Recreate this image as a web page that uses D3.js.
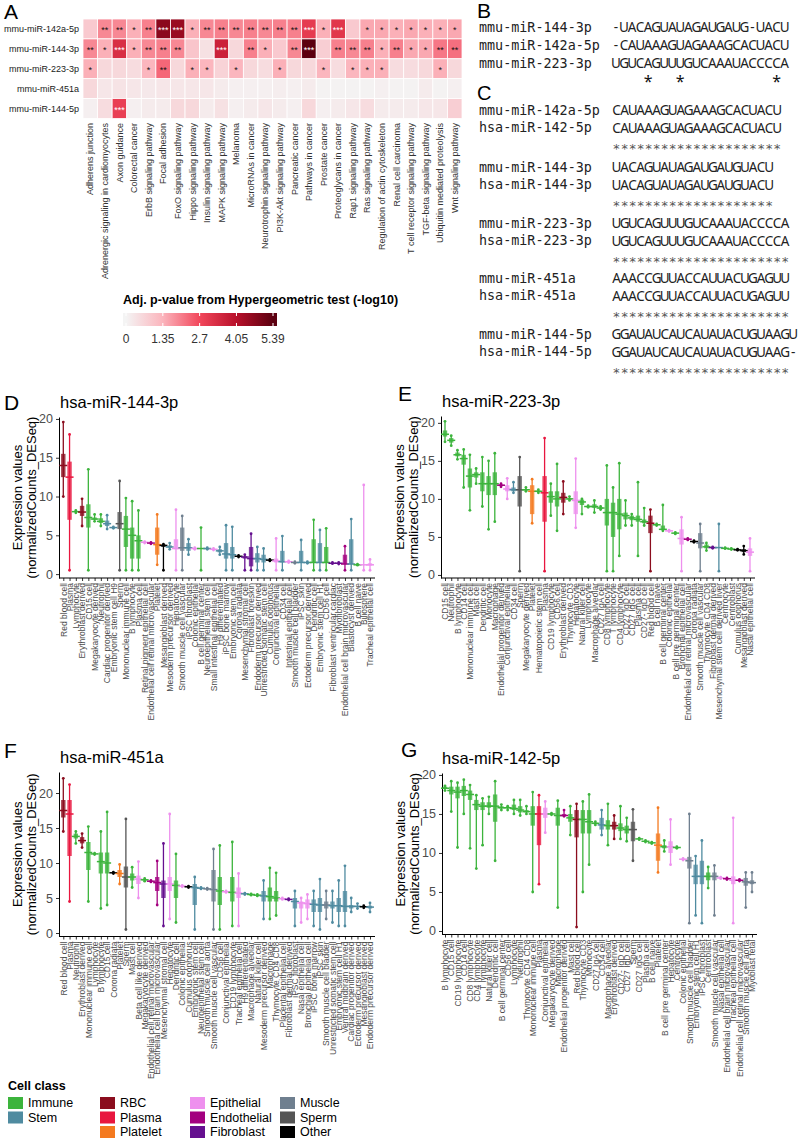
<!DOCTYPE html>
<html><head><meta charset="utf-8">
<script src="https://cdn.jsdelivr.net/npm/d3@7"></script>
<style>body{margin:0;background:#fff}svg{display:block}</style>
</head><body>
<svg id="c" width="800" height="1142"></svg>
<script>
// ---------------- DATA ----------------
const hmRows = ["mmu-miR-142a-5p","mmu-miR-144-3p","mmu-miR-223-3p","mmu-miR-451a","mmu-miR-144-5p"];
const hmCols = ["Adherens junction","Adrenergic signaling in cardiomyocytes","Axon guidance","Colorectal cancer","ErbB signaling pathway","Focal adhesion","FoxO signaling pathway","Hippo signaling pathway","Insulin signaling pathway","MAPK signaling pathway","Melanoma","MicroRNAs in cancer","Neurotrophin signaling pathway","PI3K-Akt signaling pathway","Pancreatic cancer","Pathways in cancer","Prostate cancer","Proteoglycans in cancer","Rap1 signaling pathway","Ras signaling pathway","Regulation of actin cytoskeleton","Renal cell carcinoma","T cell receptor signaling pathway","TGF-beta signaling pathway","Ubiquitin mediated proteolysis","Wnt signaling pathway"];
const hmVals = [
 [0.9,1.9,1.9,1.4,2.0,4.7,4.5,1.4,1.9,2.0,1.9,2.0,1.9,2.0,2.0,3.0,1.4,3.1,0.9,1.5,1.5,1.4,1.5,1.4,1.4,1.5],
 [1.9,1.4,3.3,1.4,1.9,2.0,1.9,1.0,0.4,3.6,0.6,2.0,1.4,0.9,1.9,5.39,0.8,2.0,1.9,2.0,1.4,2.0,1.5,1.5,2.1,2.2],
 [1.4,0.6,0.6,0.5,1.3,2.3,0.6,1.4,1.3,0.7,1.3,0.6,0.5,1.4,0.6,0.6,1.3,0.5,1.3,1.4,1.4,0.5,0.5,0.6,1.4,0.6],
 [0.6,0.3,0.35,0.3,0.25,0.3,0.3,0.3,0.3,0.2,0.1,0.1,0.1,0.15,0.1,0.2,0.05,0.05,0.05,0.05,0.1,0.05,0.05,0.2,0.05,0.1],
 [0.1,0.5,2.9,0.1,0.2,0.2,0.6,0.6,0.2,0.4,0.1,0.2,0.3,0.2,0.1,0.6,0.1,0.2,0.3,0.5,0.2,0.2,0.2,0.3,0.3,0.8]
];
const hmStars = [
 ["","**","**","*","**","***","***","*","**","**","**","**","**","**","**","***","*","***","","*","*","*","*","*","*","*"],
 ["**","*","***","*","**","**","**","","","***","","**","*","","**","***","","**","**","**","*","**","*","*","**","**"],
 ["*","","","","*","**","","*","*","","*","","","*","","","*","","*","*","*","","","","*",""],
 ["","","","","","","","","","","","","","","","","","","","","","","","","",""],
 ["","","***","","","","","","","","","","","","","","","","","","","","","","",""]
];
const hmStops = [0,1.35,2.7,4.05,5.39];
const hmStopColors = ["#f4f4f4","#fbb4bc","#f2475b","#b8102a","#5c0010"];
const hmTicks = ["0","1.35","2.7","4.05","5.39"];

const bNames = ["mmu-miR-144-3p","mmu-miR-142a-5p","mmu-miR-223-3p"];
const bSeqs  = ["-UACAGUAUAGAUGAUG-UACU","-CAUAAAGUAGAAAGCACUACU","UGUCAGUUUGUCAAAUACCCCA"];
const bCons  = "    *   *           * ";

const cMmu    = ["mmu-miR-142a-5p","mmu-miR-144-3p","mmu-miR-223-3p","mmu-miR-451a","mmu-miR-144-5p"];
const cHsa    = ["hsa-miR-142-5p","hsa-miR-144-3p","hsa-miR-223-3p","hsa-miR-451a","hsa-miR-144-5p"];
const cMmuSeq = ["CAUAAAGUAGAAAGCACUACU","UACAGUAUAGAUGAUGUACU","UGUCAGUUUGUCAAAUACCCCA","AAACCGUUACCAUUACUGAGUU","GGAUAUCAUCAUAUACUGUAAGU"];
const cHsaSeq = ["CAUAAAGUAGAAAGCACUACU","UACAGUAUAGAUGAUGUACU","UGUCAGUUUGUCAAAUACCCCA","AAACCGUUACCAUUACUGAGUU","GGAUAUCAUCAUAUACUGUAAG-"];
const cCons   = ["*********************","********************","**********************","**********************","********************** "];

const classNames  = ["Immune","Stem","RBC","Plasma","Platelet","Epithelial","Endothelial","Fibroblast","Muscle","Sperm","Other"];
const classColors = ["#3cb43c","#4f8ba0","#8b0d1e","#e8163f","#f47a20","#ee90ee","#a3007f","#65108f","#6f7f8f","#555555","#000000"];
const legendGroups = [["Immune","Stem"],["RBC","Plasma","Platelet"],["Epithelial","Endothelial","Fibroblast"],["Muscle","Sperm","Other"]];
const yTicks = [0,5,10,15,20];

// [cell type, class, min, q1, median, q3, max]
const panelD = [
 ["Red blood cell","RBC",10,12.5,14,15.5,19.6],
 ["Plasma","Plasma",0.5,7,12.5,14.5,18],
 ["Lymphocyte","Immune",7.9,8,8.05,8.1,8.2],
 ["Erythroblast derived","RBC",6.2,7.5,8,8.8,9.7],
 ["CD15 cell","Immune",0.5,6,7.3,9,13.5],
 ["Megakaryocyte derived","Immune",6.8,7,7.1,7.3,7.7],
 ["Neutrophil","Immune",6.2,6.6,6.8,7.2,7.7],
 ["Cardiac progenitor derived","Stem",5.8,6.2,6.5,6.9,7.6],
 ["Embryonic stem cell H9","Stem",5.9,5.95,6,6.05,6.1],
 ["Sperm","Sperm",0.5,5.8,6.5,8,12],
 ["Mononuclear immune cell","Immune",0.5,3.5,5.8,7.5,9.8],
 ["B lymphocyte","Immune",0.5,2,5,6,9.4],
 ["Plasma cell","Immune",0.5,2,4.3,5,8.2],
 ["Retinal pigment epithelial cell","Epithelial",4,4.05,4.1,4.15,4.2],
 ["Endothelial cell retinal microvascular","Endothelial",3.9,3.95,4,4.05,4.1],
 ["Platelet","Platelet",1.2,2.5,3.8,6,7.7],
 ["Mesangioblast derived","Other",0.5,3.5,3.7,3.8,3.85],
 ["Mesoderm precursor derived","Stem",3.2,3.4,3.5,3.7,4],
 ["Hepatocyte","Epithelial",0.5,3.2,3.3,4.5,8.3],
 ["Smooth muscle cell vascular","Muscle",0.5,3,3.4,6,7.5],
 ["iPSC fibroblast","Stem",2.5,3,3.4,4,4.5],
 ["Colonic epithelial","Epithelial",3.2,3.25,3.3,3.35,3.4],
 ["B cell germinal center","Immune",0.5,3.3,3.3,3.3,6],
 ["Neuroepithelial stem cell","Stem",3.2,3.25,3.3,3.35,3.4],
 ["Small intestinal epithelial cell","Epithelial",3.1,3.15,3.2,3.25,3.3],
 ["H9 differentiated","Stem",2.5,2.8,3,3.2,3.5],
 ["iPSC bone marrow","Stem",0.5,2,2.6,4,6.3],
 ["Embryonic stem cell","Stem",0.5,2,2.5,3.5,6.1],
 ["Corona radiata","Other",2.2,2.25,2.3,2.35,2.4],
 ["Mesenchymal stromal cell","Fibroblast",0.5,2,2.2,2.3,2.5],
 ["Fibroblast foreskin","Fibroblast",0.5,1,2,3.5,5.2],
 ["Endoderm precursor derived","Stem",0.5,1.5,2,2.7,3.5],
 ["Unrestricted somatic stem cell","Stem",0.5,1.5,1.9,2.5,3.3],
 ["Cumulus oophorus","Other",1.7,1.75,1.8,1.85,1.9],
 ["Conjunctival epithelial","Epithelial",0.5,1.5,1.7,2,4.6],
 ["CD34 cell","Stem",0.5,1.5,1.6,3,4.9],
 ["Intestinal epithelial cell","Epithelial",1.5,1.55,1.6,1.65,1.7],
 ["Smooth muscle cell bladder","Muscle",1.4,1.45,1.5,1.55,1.6],
 ["iPSC skin","Stem",0.5,1.5,1.5,3,4.4],
 ["Ectoderm precursor derived","Stem",1.4,1.45,1.5,1.55,1.6],
 ["Dendritic cell","Immune",0.5,1.5,1.5,4.5,7],
 ["Embryonic stem cell H1","Stem",0.5,1.5,1.5,4,5.7],
 ["CD56 cell","Immune",0.5,1.5,1.5,3.5,5.9],
 ["Fibroblast ventricular cardiac","Fibroblast",1.35,1.4,1.4,1.45,1.5],
 ["Myofibroblast","Fibroblast",1.3,1.35,1.4,1.45,1.5],
 ["Endothelial cell brain microvascular","Endothelial",0.5,1.3,1.3,2.5,3.6],
 ["Blastocyst derived","Stem",0.5,1.3,1.3,4.5,7.1],
 ["B cell naive","Immune",1.15,1.2,1.2,1.25,1.3],
 ["Biliosphere","Epithelial",0.5,1.2,1.2,1.3,11.5],
 ["Tracheal epithelial cell","Epithelial",0.5,1.1,1.2,1.4,1.9]
];

const panelE = [
 ["CD15 cell","Immune",17.5,18.2,18.5,19,20.2],
 ["Neutrophil","Immune",17,17.4,17.7,18,18.3],
 ["B lymphocyte","Immune",15.2,15.6,15.8,16.1,16.4],
 ["CD14 cell","Immune",11.5,14.5,15.3,15.8,16.5],
 ["Mononuclear immune cell","Immune",8.5,11.5,13,14,15.8],
 ["Mast cell","Immune",12,12.8,13.2,13.5,14],
 ["Dendritic cell","Immune",9,11,12,13.5,15.5],
 ["Monocyte","Immune",6,10.5,12,13,15],
 ["Macrophage","Immune",7,10.5,12,13.5,16],
 ["Endothelial progenitor derived","Endothelial",11.6,11.7,11.8,11.9,12],
 ["Conjunctival epithelial","Epithelial",10,11,11.3,11.8,12.7],
 ["CD34 cell","Stem",10.8,11,11.2,11.5,12.2],
 ["Sperm","Sperm",0.5,9,11.2,13,15.5],
 ["Megakaryocyte derived","Immune",11,11.1,11.2,11.3,11.5],
 ["Platelet","Platelet",6.8,8,11,11.8,12.6],
 ["Hematopoietic stem cell","Immune",10.8,10.9,11,11.1,11.2],
 ["Plasma","Plasma",0.5,7,10.8,13,18],
 ["CD19 lymphocyte","Immune",7.8,9.5,10.3,11,12],
 ["CD56 cell","Immune",5.8,9,10,11,14.6],
 ["Erythroblast derived","RBC",8,9.5,10.2,10.8,12.3],
 ["Thymocyte CD3","Immune",9.8,9.9,10,10.1,10.3],
 ["Hepatocyte","Epithelial",6.2,8,9.8,11,15.3],
 ["Natural killer cell","Immune",8,9.2,9.6,9.9,10],
 ["Lymphocyte","Immune",8.9,8.95,9,9.05,9.1],
 ["Macrophage alveolar","Immune",8.2,8.8,9,9.3,9.8],
 ["CD27 IgA cell","Immune",8.6,8.7,8.8,8.9,9],
 ["CD8 lymphocyte","Immune",0.5,6.5,8.2,10,14.4],
 ["T lymphocyte","Immune",0.5,5,8.2,9.5,11.5],
 ["CD4 lymphocyte","Immune",2.5,6,8,10,14.7],
 ["CD27 IgD cell","Immune",6.5,7.3,7.8,8.2,9.8],
 ["CD27 IgG cell","Immune",6.5,7.2,7.5,7.8,8],
 ["Plasma cell","Immune",2.5,7,7.3,7.8,12.2],
 ["CD27- IgD cell","Immune",6.5,6.8,7,7.3,8.8],
 ["Red blood cell","RBC",0.5,5.5,6.8,7.8,8.6],
 ["B cell naive","Immune",6.5,6.55,6.6,6.65,6.7],
 ["B cell germinal center","Immune",5.8,5.9,6,6.5,9.2],
 ["Colonic epithelial","Epithelial",5.7,5.75,5.8,5.85,5.9],
 ["B cell pre germinal center","Immune",5.4,5.45,5.5,5.55,5.6],
 ["Bronchial epithelial cell","Epithelial",0.5,4,4.8,6,7.6],
 ["Endothelial cell retinal microvascular","Endothelial",4.6,4.65,4.7,4.75,4.8],
 ["Corona radiata","Other",4.3,4.35,4.4,4.45,4.5],
 ["Smooth muscle cell vascular","Muscle",0.5,3.5,4.2,5.5,6.7],
 ["Thymocyte CD4 CD8","Immune",3.2,3.5,3.7,4,4.2],
 ["Fibroblast dermal derived","Fibroblast",3.5,3.55,3.6,3.65,3.7],
 ["Mesenchymal stem cell derived liver","Stem",0.5,3.6,3.6,3.6,6.7],
 ["Centrocyte","Immune",3.45,3.5,3.5,3.55,3.6],
 ["Centroblast","Immune",3.35,3.4,3.4,3.45,3.5],
 ["Cumulus oophorus","Other",3.25,3.3,3.3,3.35,3.4],
 ["Mesangioblast derived","Other",2.7,3,3.2,3.4,3.8],
 ["Nasal epithelial cell","Epithelial",0.5,2.5,3,3.5,4.8]
];

const panelF = [
 ["Red blood cell","RBC",14.5,16.5,17.5,19,22.1],
 ["Plasma","Plasma",4.5,11,17,19,21.2],
 ["Neutrophil","Immune",12.8,13.5,13.8,14.2,14.5],
 ["Erythroblast derived","RBC",12.2,12.8,13.2,13.7,14.2],
 ["Mononuclear immune cell","Immune",4.5,9,11.5,13,15.2],
 ["Lymphocyte","Immune",11.2,11.25,11.3,11.35,11.4],
 ["B lymphocyte","Immune",3.5,8.5,10.2,11.5,14.5],
 ["CD15 cell","Immune",4,8.5,10,11.5,17.3],
 ["Corona radiata","Other",8.5,8.55,8.6,8.65,8.7],
 ["Platelet","Platelet",7,8,8.5,9,9.8],
 ["Sperm","Sperm",0.5,6.5,8,9.5,16.3],
 ["Mast cell","Immune",6.5,7.5,8,8.5,9.4],
 ["Beta cell like derived","Epithelial",5,7,7.7,8.2,10.2],
 ["Megakaryocyte derived","Immune",7.4,7.5,7.6,7.7,7.8],
 ["Endothelial cell retinal microvascular","Endothelial",7.3,7.35,7.4,7.45,7.5],
 ["Endothelial cell brain microvascular","Endothelial",4,6,7.2,8,10.3],
 ["Mesenchymal stromal cell","Fibroblast",1,5,7,7.5,12.8],
 ["Hepatocyte","Epithelial",2,6,7,8,17],
 ["Dendritic cell","Immune",1.5,5,6.8,7.5,11.3],
 ["Colonic epithelial","Epithelial",6.6,6.65,6.7,6.75,6.8],
 ["Cumulus oophorus","Other",6.5,6.55,6.6,6.65,6.7],
 ["Embryonic stem cell","Stem",0.5,4,6.5,7,8],
 ["Neuroepithelial stem cell","Stem",6.3,6.35,6.4,6.45,6.5],
 ["Smooth muscle cell aorta","Muscle",6.2,6.25,6.3,6.35,6.4],
 ["Smooth muscle cell vascular","Muscle",0.5,4.5,6.2,9,12],
 ["CD56 cell","Immune",0.5,4,6,8,12.5],
 ["Conjunctival epithelial","Epithelial",5.8,5.85,5.9,5.95,6],
 ["CD19 lymphocyte","Immune",1,4.5,5.8,8,13],
 ["Tracheal epithelial cell","Epithelial",1,5,5.7,6.5,8.5],
 ["H9 differentiated","Stem",5.5,5.55,5.6,5.65,5.7],
 ["Macrophage alveolar","Immune",5.4,5.45,5.5,5.55,5.6],
 ["Natural killer cell","Immune",5.3,5.35,5.4,5.45,5.5],
 ["Mesoderm precursor derived","Stem",2,4.5,5.3,6,7.5],
 ["Macrophage","Immune",2,4.5,5.2,6.5,9.3],
 ["Thymocyte CD4 CD8","Immune",2.5,4.5,5,6,8.6],
 ["Placental epithelial cell","Epithelial",4.8,4.85,4.9,4.95,5],
 ["Fibroblast dermal derived","Fibroblast",4.7,4.75,4.8,4.85,4.9],
 ["iPSC fibroblast","Stem",1,3.5,4.5,5,6],
 ["Nasal epithelial cell","Epithelial",1.5,3.5,4.3,4.5,5],
 ["Bronchial epithelial cell","Epithelial",2,3.5,4.2,4.8,5.5],
 ["iPSC bone marrow","Stem",1,3,4.1,4.8,6],
 ["iPSC skin","Stem",0.5,3,4,5,7.7],
 ["Smooth muscle cell bladder","Muscle",2,3.5,4,4.5,6],
 ["Unrestricted somatic stem cell","Stem",1.5,3.5,3.9,4.5,6],
 ["Embryonic stem cell H1","Stem",1,3,3.9,5,7.5],
 ["Ventral midbrain derived","Stem",1,3,3.8,6,9.6],
 ["Cardiac progenitor derived","Stem",3,3.5,3.8,4,5],
 ["Ectoderm precursor derived","Stem",3.5,3.7,3.8,3.9,4.2],
 ["Mesangioblast derived","Other",3.6,3.7,3.75,3.8,3.9],
 ["Endoderm precursor derived","Stem",3,3.5,3.7,3.9,4.3]
];

const panelG = [
 ["B lymphocyte","Immune",18,18.2,18.3,18.5,18.6],
 ["CD15 cell","Immune",15.3,17.5,18,18.5,19.2],
 ["CD19 lymphocyte","Immune",10.7,17,17.8,18.5,19],
 ["CD14 cell","Immune",15,17.3,18,18.6,19.4],
 ["CD8 lymphocyte","Immune",10.6,16.8,17.5,18,18.7],
 ["CD4 lymphocyte","Immune",8,15.5,16.2,16.8,17.4],
 ["T lymphocyte","Immune",11,15.5,16,16.5,17],
 ["Natural killer cell","Immune",15,15.8,16,16.5,17.2],
 ["Dendritic cell","Immune",9,14,16,17.5,19.2],
 ["B cell germinal center","Immune",15.5,15.7,15.8,16,16.2],
 ["CD56 cell","Immune",15.5,15.7,15.8,15.9,16],
 ["Lymphocyte","Immune",15,15.5,15.7,16.2,16.8],
 ["Neutrophil","Immune",14.8,15.2,15.5,16,16.8],
 ["Thymocyte CD4 CD8","Immune",15,15.2,15.3,15.5,16],
 ["Mononuclear immune cell","Immune",5,13.5,15,16,17.8],
 ["Plasma","Plasma",6,11,15,16,17.4],
 ["Conjunctival epithelial","Epithelial",12.6,14.5,15,15.8,16.6],
 ["Megakaryocyte derived","Immune",14.9,14.95,15,15.05,15.1],
 ["Macrophage","Immune",3,13.5,14.8,15.8,16.7],
 ["Endothelial progenitor derived","Endothelial",14.7,14.75,14.8,15,15.5],
 ["Mast cell","Immune",12.3,14,14.5,15,16],
 ["Red blood cell","RBC",0.5,12,14.3,15.5,16.3],
 ["Thymocyte CD3","Immune",5,12.5,14.3,15.5,16.6],
 ["Monocyte","Immune",8.5,12.5,14,15.5,17.5],
 ["CD27 IgA cell","Immune",13.6,13.7,13.8,13.9,14],
 ["CD34 cell","Stem",12.3,13,13.6,14.5,15.5],
 ["Macrophage alveolar","Immune",11,13,13.5,14.2,16.3],
 ["Erythroblast derived","RBC",11.8,13,13.5,14,14.8],
 ["CD27- IgD cell","Immune",11.8,12.8,13.2,13.8,16],
 ["CD27 IgD cell","Immune",11.5,12.5,13,13.5,14.5],
 ["Sperm","Sperm",9,11.5,13,14,15.6],
 ["CD27 IgG cell","Immune",11.7,11.75,11.8,11.85,11.9],
 ["Plasma cell","Immune",11.4,11.45,11.5,11.55,11.6],
 ["B cell naive","Immune",11.2,11.25,11.3,11.35,11.4],
 ["Platelet","Platelet",7.5,9,11,12.5,15.8],
 ["B cell pre germinal center","Immune",10.2,10.6,10.8,11,11.6],
 ["Hepatocyte","Epithelial",8.5,10,10.8,11.5,14.3],
 ["Centrocyte","Immune",10.6,10.65,10.7,10.75,10.8],
 ["Colonic epithelial","Epithelial",9.1,9.15,9.2,9.25,9.3],
 ["Smooth muscle cell bladder","Muscle",1,8,9,9.5,15],
 ["Embryonic stem cell H1","Stem",2,6,7,8.5,9.6],
 ["iPSC fibroblast","Stem",1,6,7,9,11.6],
 ["Centroblast","Immune",5.5,6.5,7,7.5,8.2],
 ["Smooth muscle cell vascular","Muscle",2,6.5,7,7.5,8.4],
 ["Nasal epithelial cell","Epithelial",6.7,6.75,6.8,6.85,6.9],
 ["Endothelial cell brain microvascular","Endothelial",6.6,6.65,6.7,6.75,6.8],
 ["Tracheal epithelial cell","Epithelial",1,6,6.5,7,14.5],
 ["Endothelial cell retinal microvascular","Endothelial",6.4,6.45,6.5,6.55,6.6],
 ["Smooth muscle cell aorta","Muscle",3,5.8,6.3,6.8,7.5],
 ["Myoblast fetal","Muscle",5,6,6.2,6.5,7.5]
];

// ---------------- DRAWING ----------------
const FONT = "'Liberation Sans', Arial, sans-serif";
const MONO = "'DejaVu Sans Mono', monospace";
const SEQF = "'Noto Sans', 'DejaVu Sans', sans-serif";
const svg = d3.select("#c");
const colorOf = d3.scaleOrdinal().domain(classNames).range(classColors);

function letter(t, x, y, size){
  svg.append("text").attr("x",x).attr("y",y).attr("font-family",FONT).attr("font-size",size||21).attr("fill","#000").text(t);
}

// ---- Panel A: heatmap ----
letter("A",4,19);
const hx = d3.scaleBand().domain(hmCols).range([83,462]);
const hy = d3.scaleBand().domain(hmRows).range([19,118.5]);
const hcol = d3.scaleLinear().domain(hmStops).range(hmStopColors).clamp(true);
const cells = hmRows.flatMap((r,i)=>hmCols.map((c,j)=>({r,c,v:hmVals[i][j],s:hmStars[i][j]})));
const gA = svg.append("g");
gA.selectAll("rect").data(cells).join("rect")
  .attr("x",d=>hx(d.c)).attr("y",d=>hy(d.r))
  .attr("width",hx.bandwidth()).attr("height",hy.bandwidth())
  .attr("fill",d=>hcol(d.v)).attr("stroke","#fff").attr("stroke-width",0.8);
gA.selectAll("text.star").data(cells.filter(d=>d.s)).join("text").attr("class","star")
  .attr("x",d=>hx(d.c)+hx.bandwidth()/2).attr("y",d=>hy(d.r)+hy.bandwidth()/2+4.4)
  .attr("text-anchor","middle").attr("font-family",FONT).attr("font-size",9)
  .attr("fill",d=>d.v>2.5?"#fff":"#111").text(d=>d.s);
gA.selectAll("text.rl").data(hmRows).join("text").attr("class","rl")
  .attr("x",79).attr("y",d=>hy(d)+hy.bandwidth()/2).attr("dy","0.35em")
  .attr("text-anchor","end").attr("font-family",FONT).attr("font-size",9).attr("fill","#1a1a1a").text(d=>d);
gA.selectAll("text.cl").data(hmCols).join("text").attr("class","cl")
  .attr("transform",d=>`translate(${hx(d)+hx.bandwidth()/2+3.2},123) rotate(-90)`)
  .attr("text-anchor","end").attr("font-family",FONT).attr("font-size",9).attr("fill","#333").text(d=>d);

// colour legend
svg.append("text").attr("x",123).attr("y",304).attr("font-family",FONT).attr("font-size",12.5)
  .attr("font-weight","bold").attr("fill","#000").text("Adj. p-value from Hypergeometric test (-log10)");
const lx = d3.scaleLinear().domain([0,5.39]).range([126,273]);
const grad = svg.append("defs").append("linearGradient").attr("id","hg").attr("x1","0%").attr("x2","100%");
const bx0 = 123, bx1 = 277;
hmStops.forEach((s,i)=>grad.append("stop").attr("offset",((lx(s)-bx0)/(bx1-bx0)*100)+"%").attr("stop-color",hmStopColors[i]));
svg.append("rect").attr("x",bx0).attr("y",313).attr("width",bx1-bx0).attr("height",13).attr("fill","url(#hg)");
hmStops.forEach((s,i)=>{
  svg.append("line").attr("x1",lx(s)).attr("x2",lx(s)).attr("y1",313).attr("y2",316).attr("stroke","#fff");
  svg.append("line").attr("x1",lx(s)).attr("x2",lx(s)).attr("y1",323).attr("y2",326).attr("stroke","#fff");
  svg.append("text").attr("x",lx(s)).attr("y",343).attr("text-anchor","middle").attr("font-family",FONT)
    .attr("font-size",12).attr("fill","#333").text(hmTicks[i]);
});

// ---- Panel B & C: alignments ----
const pitch = 8.03;
function seqLine(str, x0, yc, opts){
  const g = svg.append("g");
  g.selectAll("text").data(str.split("").map((ch,k)=>({ch,k})).filter(d=>d.ch!==" ")).join("text")
    .attr("x",d=>x0+(d.k+0.5)*pitch).attr("y",yc+opts.dy)
    .attr("text-anchor","middle").attr("font-family",opts.font).attr("font-size",opts.size)
    .attr("fill",opts.fill).text(d=>d.ch);
}
function label(t,x,yc){
  svg.append("text").attr("x",x).attr("y",yc).attr("dy","0.36em").attr("font-family",MONO)
    .attr("font-size",13.4).attr("fill","#222").text(t);
}
letter("B",477,18);
const bY = [27,45,63];
bNames.forEach((n,i)=>{ label(n,479,bY[i]); seqLine(bSeqs[i],612,bY[i],{dy:5,font:SEQF,size:13.5,fill:"#222"}); });
seqLine(bCons,612,77,{dy:10,font:SEQF,size:16,fill:"#111"});

letter("C",477,100,20);
const cY = [110,167,223,278,334];
cMmu.forEach((n,i)=>{
  const y0 = cY[i];
  label(n,479,y0); seqLine(cMmuSeq[i],612.5,y0,{dy:5,font:SEQF,size:13.5,fill:"#222"});
  label(cHsa[i],479,y0+17.5); seqLine(cHsaSeq[i],612.5,y0+17.5,{dy:5,font:SEQF,size:13.5,fill:"#222"});
  seqLine(cCons[i],612.5,y0+35,{dy:8,font:MONO,size:13,fill:"#555"});
});

// ---- Expression panels ----
function drawPanel(rows, o){
  const g = svg.append("g");
  const n = rows.length;
  const x = d3.scalePoint().domain(d3.range(n)).range([o.x0,o.x1]);
  const y = d3.scaleLinear().domain(o.yDom).range(o.yRng);
  const base = o.yRng[0];
  const xa = g.append("g").attr("transform",`translate(0,${base})`)
    .call(d3.axisBottom(x).tickSize(3).tickSizeOuter(0).tickFormat(i=>rows[i][0]));
  xa.select(".domain").remove();
  xa.selectAll(".tick line").attr("stroke","#333");
  xa.selectAll("text").attr("transform","rotate(-90)").attr("x",-5).attr("y",0).attr("dy","0.32em")
    .style("text-anchor","end").attr("font-size",8.5).attr("fill","#4d4d4d").attr("font-family",FONT);
  g.append("line").attr("x1",o.ax).attr("x2",o.axEnd).attr("y1",base).attr("y2",base).attr("stroke","#000");
  const ya = g.append("g").attr("transform",`translate(${o.ax},0)`)
    .call(d3.axisLeft(y).tickValues(yTicks).tickSize(3).tickSizeOuter(0));
  ya.select(".domain").attr("stroke","#000");
  ya.selectAll(".tick line").attr("stroke","#333");
  ya.selectAll("text").attr("font-size",12.5).attr("fill","#4d4d4d").attr("font-family",FONT);
  const mid = (o.yRng[0]+o.yRng[1])/2;
  [["Expression values",-37],["(normalizedCounts_DESeq)",-23]].forEach(([t,dx])=>{
    g.append("text").attr("transform",`translate(${o.ax+dx},${mid}) rotate(-90)`).attr("text-anchor","middle")
      .attr("font-family",FONT).attr("font-size",13).attr("fill","#000").text(t);
  });
  g.append("text").attr("x",o.tx).attr("y",o.ty).attr("font-family",FONT).attr("font-size",16.5).attr("fill","#000").text(o.title);
  letter(o.letter,o.lx,o.ly);
  const m = g.append("g");
  rows.forEach((r,i)=>{
    const cx = x(i), col = colorOf(r[1]);
    const [mn,q1,md,q3,mx] = r.slice(2);
    m.append("line").attr("x1",cx).attr("x2",cx).attr("y1",y(mn)).attr("y2",y(mx)).attr("stroke",col).attr("stroke-width",1.3);
    if (q3-q1>0.15) m.append("rect").attr("x",cx-2.2).attr("width",4.4).attr("y",y(q3)).attr("height",y(q1)-y(q3))
      .attr("fill",col).attr("opacity",0.8);
    m.append("line").attr("x1",cx-4).attr("x2",cx+4).attr("y1",y(md)).attr("y2",y(md)).attr("stroke",col).attr("stroke-width",1.5);
    [mn,mx].forEach(v=>m.append("circle").attr("cx",cx).attr("cy",y(v)).attr("r",1.4).attr("fill",col));
  });
}

drawPanel(panelD,{x0:63.3,x1:370,ax:59,axEnd:375,yDom:[-0.5,20.25],yRng:[578,417],title:"hsa-miR-144-3p",tx:60,ty:408,letter:"D",lx:4,ly:410});
drawPanel(panelE,{x0:445,x1:750,ax:441,axEnd:755,yDom:[-0.4,20.9],yRng:[578,416],title:"hsa-miR-223-3p",tx:442,ty:407,letter:"E",lx:398,ly:401});
drawPanel(panelF,{x0:63.3,x1:370,ax:59,axEnd:375,yDom:[-0.5,23],yRng:[936.5,772],title:"hsa-miR-451a",tx:60,ty:763,letter:"F",lx:4,ly:758});
drawPanel(panelG,{x0:445,x1:752,ax:442,axEnd:757,yDom:[-0.45,20.25],yRng:[934.5,773],title:"hsa-miR-142-5p",tx:442,ty:764,letter:"G",lx:401,ly:757});

// ---- Cell class legend ----
svg.append("text").attr("x",8).attr("y",1090).attr("font-family",FONT).attr("font-size",12.5)
  .attr("font-weight","bold").attr("fill","#000").text("Cell class");
const legX = [8,100,190,280];
legendGroups.forEach((grp,ci)=>{
  grp.forEach((cls,ri)=>{
    const yc = 1103+ri*14.5;
    svg.append("rect").attr("x",legX[ci]).attr("y",yc-6).attr("width",15).attr("height",12).attr("fill",colorOf(cls));
    svg.append("text").attr("x",legX[ci]+20).attr("y",yc).attr("dy","0.35em").attr("font-family",FONT)
      .attr("font-size",12.5).attr("fill","#000").text(cls);
  });
});
</script>
</body></html>
